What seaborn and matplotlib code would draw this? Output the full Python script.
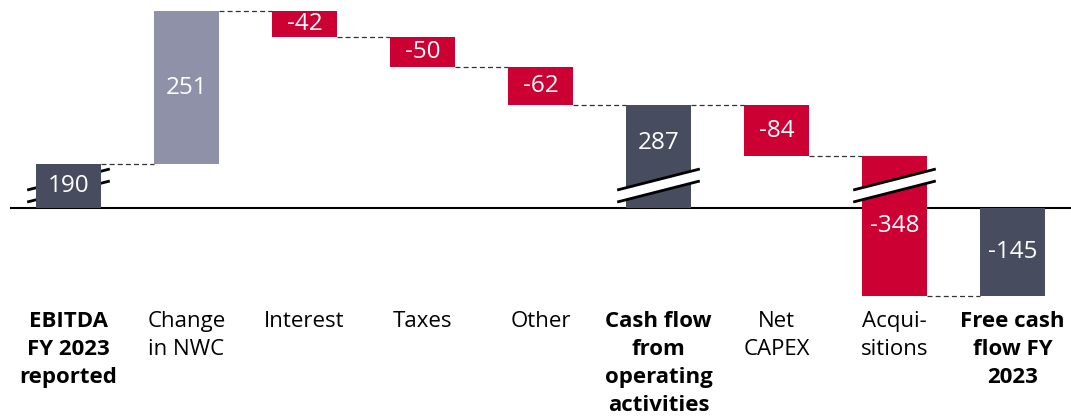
import numpy as np
import pandas as pd
import matplotlib
matplotlib.use("Agg")
import matplotlib.pyplot as plt
import seaborn as sns
from matplotlib.patches import Polygon

# ---------------- data ----------------
categories = [
    "EBITDA\nFY 2023\nreported",
    "Change\nin NWC",
    "Interest",
    "Taxes",
    "Other",
    "Cash flow\nfrom\noperating\nactivities",
    "Net\nCAPEX",
    "Acqui-\nsitions",
    "Free cash\nflow FY\n2023",
]
values = [190, 251, -42, -50, -62, 287, -84, -348, -145]
kinds = ["total", "delta", "delta", "delta", "delta", "total", "delta", "delta", "total"]
# lengths as drawn on the chart (bars with an axis break are shortened)
drawn = [72, 251, -42, -50, -62, 169, -84, -230, -145]
has_break = [True, False, False, False, False, True, False, True, False]
break_on_top = [False, False, False, False, False, True, False, True, False]

# ---------------- style ----------------
C_TOTAL = "#474c5e"
C_UP = "#8e91a8"
C_DOWN = "#cc0033"

sns.set_theme(style="white")
plt.rcParams["font.family"] = ["Open Sans", "DejaVu Sans"]

# waterfall geometry (in data units)
bottoms, tops, ends = [], [], []
run = 0.0
for k, d in zip(kinds, drawn):
    if k == "total":
        b, t = 0.0, d
        run = d
    else:
        b, t = run, run + d
        run = run + d
    bottoms.append(b)
    tops.append(t)
    ends.append(run)

spans = [abs(t - b) for b, t in zip(bottoms, tops)]
colors = [C_TOTAL if k == "total" else (C_UP if d > 0 else C_DOWN) for k, d in zip(kinds, drawn)]

df = pd.DataFrame({"category": categories, "span": spans})

fig = plt.figure(figsize=(10.71, 4.18), dpi=100)
ax = fig.add_axes([9.5 / 1071, 108 / 418, 1062 / 1071, 310 / 418])

BAR_W = 0.55
sns.barplot(data=df, x="category", y="span", order=categories, width=BAR_W,
            color=C_TOTAL, errorbar=None, ax=ax, zorder=2)

for p, b, t, c in zip(ax.patches, bottoms, tops, colors):
    p.set_y(min(b, t))
    p.set_height(abs(t - b))
    p.set_facecolor(c)
    p.set_edgecolor("none")
    p.set_linewidth(0)

ax.set_xlim(-0.5, 8.5)
ax.set_ylim(-167.3, 341.2)

# baseline
ax.axhline(0, color="black", lw=1.5, zorder=1)

# dashed connectors
for i in range(len(categories) - 1):
    ax.plot([i + BAR_W / 2, i + 1 - BAR_W / 2], [ends[i], ends[i]],
            ls=(0, (4, 2.5)), color="#333333", lw=0.9, zorder=1.5)

# axis break marks
HW = 0.35
LO = (9.8, 44.3)
HI = (29.5, 64.0)
for i, (br, top_) in enumerate(zip(has_break, break_on_top)):
    if not br:
        continue
    z = 3 if top_ else 0.5
    poly = Polygon([(i - HW, LO[0]), (i + HW, LO[1]), (i + HW, HI[1]), (i - HW, HI[0])],
                   closed=True, facecolor="white", edgecolor="none", zorder=z)
    ax.add_patch(poly)
    ax.plot([i - HW, i + HW], [LO[0], LO[1]], color="black", lw=2, zorder=z + 0.1,
            solid_capstyle="butt")
    ax.plot([i - HW, i + HW], [HI[0], HI[1]], color="black", lw=2, zorder=z + 0.1,
            solid_capstyle="butt")

# value labels
for i, (v, b, t) in enumerate(zip(values, bottoms, tops)):
    lo, hi = min(b, t), max(b, t)
    if has_break[i] and break_on_top[i] and lo >= 0:
        y = (hi + LO[1]) / 2
    else:
        y = (lo + hi) / 2
    ax.text(i, y, f"{v}", ha="center", va="center", color="white",
            fontsize=17.5, zorder=4)

# axes cosmetics
ax.set_xticks(range(len(categories)))
ax.set_xticklabels(categories, fontsize=16, color="black", linespacing=1.445)
for lab, k in zip(ax.get_xticklabels(), kinds):
    if k == "total":
        lab.set_fontweight("bold")
ax.tick_params(axis="x", length=0, pad=0.8)
ax.set_yticks([])
ax.set_xlabel("")
ax.set_ylabel("")
for s in ax.spines.values():
    s.set_visible(False)

fig.savefig("out.png", dpi=100)
